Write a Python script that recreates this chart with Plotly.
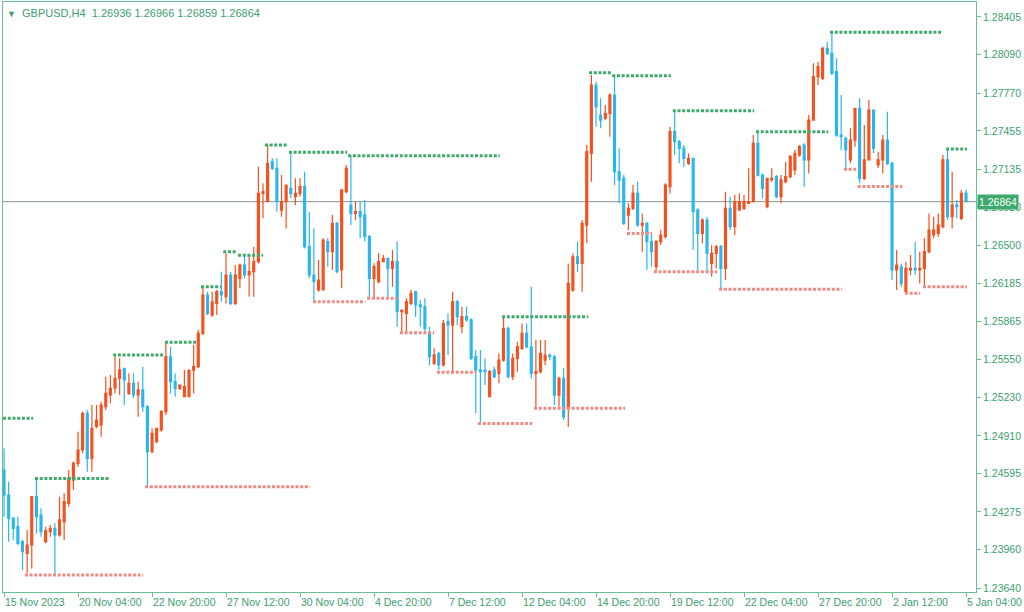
import plotly.graph_objects as go

# ---- H4 candles GBPUSD (bar 0 = 15 Nov 2023 12:00) ----
open_ = [1.24625,1.24416,1.24221,1.24152,1.24027,1.23930,1.23999,1.24402,1.24249,1.24027,
         1.24110,1.24138,1.24083,1.24194,1.24347,1.24541,1.24681,1.24792,1.25098,1.24722,
         1.24987,1.25001,1.25154,1.25251,1.25307,1.25390,1.25474,1.25265,1.25348,1.25251,
         1.25293,1.25154,1.24778,1.24861,1.24959,1.25112,1.25570,1.25362,1.25306,1.25236,
         1.25236,1.25459,1.25487,1.25765,1.26085,1.25918,1.26015,1.26113,1.26071,1.26252,
         1.26015,1.26224,1.26335,1.26252,1.26280,1.26363,1.26933,1.26864,1.27198,1.27142,
         1.26794,1.26864,1.26975,1.26906,1.26933,1.26989,1.26488,1.26252,1.26127,1.26127,
         1.26530,1.26447,1.26684,1.26294,1.26948,1.26836,1.26767,1.26781,1.26753,1.26572,
         1.26224,1.26197,1.26364,1.26391,1.26308,1.26364,1.25946,1.25932,1.26016,1.26113,
         1.26002,1.25988,1.25765,1.25515,1.25598,1.25501,1.25863,1.25835,1.26030,1.25821,
         1.25904,1.25877,1.25571,1.25459,1.25459,1.25237,1.25459,1.25431,1.25542,1.25806,
         1.25403,1.25556,1.25640,1.25765,1.25653,1.25431,1.25445,1.25542,1.25584,1.25570,
         1.25250,1.25389,1.25139,1.26126,1.26404,1.26349,1.26669,1.27267,1.27837,1.27587,
         1.27559,1.27601,1.27754,1.27114,1.27058,1.26752,1.26808,1.26933,1.26669,1.26683,
         1.26530,1.26321,1.26530,1.26572,1.26989,1.27448,1.27365,1.27309,1.27184,1.27225,
         1.26794,1.26600,1.26711,1.26349,1.26433,1.26488,1.26307,1.26808,1.26655,1.26794,
         1.26808,1.26850,1.26864,1.27351,1.27086,1.26822,1.27045,1.27073,1.26906,1.27031,
         1.27073,1.27128,1.27253,1.27337,1.27212,1.27545,1.27907,1.27893,1.28144,1.28102,
         1.27949,1.27420,1.27392,1.27212,1.27378,1.27643,1.27059,1.27212,1.27629,1.27170,
         1.27212,1.27378,1.27184,1.26294,1.26321,1.26113,1.26294,1.26307,1.26294,1.26307,
         1.26447,1.26586,1.26600,1.26655,1.27212,1.26739,1.26836,1.26725,1.26936]
high = [1.24806,1.24528,1.24235,1.24235,1.24041,1.24124,1.24402,1.24541,1.24305,1.24152,
        1.24166,1.24180,1.24402,1.24430,1.24625,1.24695,1.24945,1.25112,1.25126,1.25167,
        1.25167,1.25195,1.25404,1.25418,1.25571,1.25557,1.25474,1.25432,1.25432,1.25362,
        1.25487,1.25167,1.24973,1.24973,1.25126,1.25696,1.25654,1.25431,1.25334,1.25459,
        1.25459,1.25668,1.25793,1.26154,1.26113,1.26113,1.26127,1.26280,1.26433,1.26280,
        1.26335,1.26349,1.26419,1.26419,1.26488,1.27156,1.27017,1.27337,1.27226,1.27226,
        1.27086,1.27003,1.27281,1.27059,1.27059,1.27114,1.26780,1.26641,1.26377,1.26558,
        1.26558,1.26753,1.26697,1.26962,1.27170,1.27254,1.26864,1.26864,1.26878,1.26586,
        1.26350,1.26433,1.26419,1.26391,1.26461,1.26531,1.25960,1.26058,1.26127,1.26113,
        1.26044,1.26058,1.25821,1.25640,1.25612,1.25877,1.25932,1.26113,1.26044,1.25988,
        1.25988,1.25891,1.25626,1.25626,1.25557,1.25459,1.25487,1.25598,1.25904,1.25820,
        1.25598,1.25695,1.25848,1.25848,1.26154,1.25709,1.25709,1.25709,1.25598,1.25584,
        1.25403,1.25473,1.26349,1.26432,1.26530,1.26711,1.27337,1.27921,1.27865,1.27726,
        1.27670,1.27768,1.27921,1.27309,1.27086,1.26850,1.27003,1.27031,1.26766,1.26697,
        1.26599,1.26544,1.26627,1.27017,1.27490,1.27615,1.27378,1.27337,1.27267,1.27225,
        1.26808,1.26725,1.26739,1.26502,1.26502,1.26502,1.26947,1.26906,1.26920,1.26933,
        1.26920,1.27142,1.27420,1.27448,1.27100,1.27059,1.27142,1.27086,1.27086,1.27198,
        1.27253,1.27295,1.27337,1.27351,1.27587,1.28018,1.28032,1.28157,1.28199,1.28283,
        1.28060,1.27754,1.27406,1.27476,1.27643,1.27726,1.27504,1.27712,1.27629,1.27281,
        1.27420,1.27615,1.27198,1.26460,1.26349,1.26363,1.26419,1.26530,1.26447,1.26558,
        1.26766,1.26739,1.26766,1.27253,1.27309,1.27114,1.26878,1.26961,1.26966]
low = [1.24235,1.24027,1.24041,1.23999,1.23790,1.23763,1.23804,1.24096,1.24069,1.24013,
       1.24069,1.23749,1.24069,1.24041,1.24319,1.24458,1.24653,1.24764,1.24611,1.24611,
       1.24973,1.24903,1.25126,1.25181,1.25265,1.25251,1.25167,1.25251,1.25223,1.25070,
       1.25112,1.24486,1.24764,1.24848,1.24945,1.25084,1.25264,1.25236,1.25292,1.25236,
       1.25236,1.25264,1.25473,1.25751,1.25918,1.25904,1.25918,1.26029,1.26015,1.26001,
       1.26001,1.26141,1.26224,1.26071,1.26071,1.26349,1.26725,1.26864,1.27128,1.26780,
       1.26739,1.26641,1.26892,1.26836,1.26906,1.26474,1.26224,1.26029,1.26113,1.26127,
       1.26321,1.26294,1.26266,1.26141,1.26934,1.26670,1.26711,1.26558,1.26531,1.26058,
       1.26058,1.26183,1.26364,1.26058,1.26155,1.25821,1.25765,1.25765,1.26002,1.25904,
       1.25821,1.25779,1.25501,1.25501,1.25459,1.25487,1.25585,1.25446,1.25835,1.25765,
       1.25863,1.25543,1.25098,1.25014,1.25334,1.25237,1.25390,1.25348,1.25528,1.25389,
       1.25375,1.25445,1.25626,1.25640,1.25389,1.25139,1.25431,1.25501,1.25542,1.25167,
       1.25153,1.25041,1.24986,1.26112,1.26279,1.26112,1.26516,1.27031,1.27490,1.27476,
       1.27545,1.27406,1.27003,1.26850,1.26669,1.26627,1.26794,1.26655,1.26446,1.26293,
       1.26321,1.26279,1.26502,1.26558,1.26933,1.27253,1.27184,1.27156,1.27170,1.26460,
       1.26294,1.26516,1.26266,1.26238,1.26307,1.26141,1.26210,1.26627,1.26586,1.26794,
       1.26794,1.26850,1.26864,1.27073,1.26892,1.26808,1.27031,1.26892,1.26850,1.27017,
       1.27059,1.27086,1.27239,1.26989,1.27100,1.27545,1.27838,1.27879,1.28088,1.27921,
       1.27406,1.27295,1.27142,1.27184,1.27323,1.27017,1.27045,1.27212,1.27267,1.27142,
       1.27100,1.27170,1.26210,1.26127,1.26154,1.26099,1.26252,1.26252,1.26182,1.26168,
       1.26433,1.26558,1.26572,1.26641,1.26711,1.26641,1.26725,1.26711,1.26859]
close = [1.24416,1.24221,1.24138,1.24013,1.23944,1.23999,1.24402,1.24235,1.24110,1.24119,
         1.24138,1.24083,1.24208,1.24361,1.24555,1.24681,1.24792,1.25098,1.24722,1.24973,
         1.25042,1.25167,1.25265,1.25307,1.25390,1.25460,1.25376,1.25348,1.25251,1.25293,
         1.25154,1.24778,1.24931,1.24973,1.25112,1.25571,1.25362,1.25306,1.25334,1.25320,
         1.25459,1.25487,1.25765,1.26085,1.25932,1.26029,1.26113,1.26085,1.26252,1.26015,
         1.26252,1.26335,1.26252,1.26280,1.26363,1.26933,1.26947,1.27184,1.27142,1.26864,
         1.26864,1.27003,1.26933,1.26933,1.26989,1.26488,1.26252,1.26196,1.26210,1.26544,
         1.26447,1.26684,1.26280,1.26962,1.27143,1.26767,1.26781,1.26739,1.26572,1.26224,
         1.26322,1.26364,1.26391,1.26308,1.26364,1.25946,1.25960,1.26030,1.26099,1.26002,
         1.25988,1.25807,1.25571,1.25585,1.25501,1.25849,1.25835,1.26030,1.25904,1.25904,
         1.25877,1.25557,1.25459,1.25446,1.25446,1.25446,1.25404,1.25542,1.25806,1.25403,
         1.25556,1.25653,1.25765,1.25653,1.25431,1.25445,1.25598,1.25584,1.25570,1.25250,
         1.25389,1.25069,1.26182,1.26404,1.26349,1.26683,1.27281,1.27837,1.27656,1.27545,
         1.27601,1.27754,1.27114,1.27044,1.26683,1.26808,1.26933,1.26669,1.26683,1.26530,
         1.26446,1.26530,1.26585,1.27003,1.27448,1.27365,1.27309,1.27225,1.27225,1.26780,
         1.26600,1.26711,1.26433,1.26433,1.26488,1.26307,1.26808,1.26655,1.26864,1.26864,
         1.26864,1.26864,1.27351,1.27086,1.26975,1.27059,1.27059,1.26906,1.27045,1.27073,
         1.27239,1.27267,1.27323,1.27212,1.27545,1.27907,1.27991,1.28144,1.28102,1.27935,
         1.27420,1.27406,1.27295,1.27378,1.27643,1.27059,1.27212,1.27629,1.27309,1.27212,
         1.27378,1.27184,1.26294,1.26335,1.26182,1.26307,1.26307,1.26294,1.26307,1.26447,
         1.26627,1.26627,1.26669,1.27212,1.26739,1.26836,1.26822,1.26933,1.26864]

# ---- resistance (green) and support (red) levels: price, first bar, last bar ----
res_price = [1.25056,1.24555,1.25584,1.25690,1.26154,1.26447,1.26416,1.27337,1.27276,1.27248,
             1.25904,1.27940,1.27915,1.27623,1.27448,1.28277,1.27303]
res_start = [-0.2,6.7,23.6,34.8,42.6,47.4,50.6,56.4,61.6,74.4,107.7,126.5,131.5,144.6,162.6,178.6,203.7]
res_end   = [6.3,22.9,34.4,41.9,46.9,50.2,56.0,61.2,74.2,107.2,126.3,131.2,144.2,162.2,178.2,203.0,208.2]
sup_price = [1.23749,1.24486,1.26029,1.26058,1.25770,1.25440,1.25014,1.25140,1.26599,1.26280,
             1.26133,1.27134,1.26990,1.26099,1.26155]
sup_start = [4.5,30.5,66.8,78.5,85.6,93.6,102.5,114.6,134.7,140.5,154.6,181.6,184.6,194.8,198.7]
sup_end   = [30.1,66.2,78.1,85.0,93.0,102.1,114.2,134.3,140.1,154.2,181.2,184.4,194.2,198.1,208.2]

# ---- axis ticks ----
x_tick_bars = [0,16,32,48,64,80,96,112,128,144,160,176,192,208]
x_tick_text = ["15 Nov 2023","20 Nov 04:00","22 Nov 20:00","27 Nov 12:00","30 Nov 04:00",
               "4 Dec 20:00","7 Dec 12:00","12 Dec 04:00","14 Dec 20:00","19 Dec 12:00",
               "22 Dec 04:00","27 Dec 20:00","2 Jan 12:00","5 Jan 04:00"]
y_ticks = [1.28405,1.28090,1.27770,1.27455,1.27135,1.26820,1.26500,1.26185,1.25865,1.25550,
           1.25230,1.24910,1.24595,1.24275,1.23960,1.23640]

UP = "#F4511E"
DOWN = "#29B6EE"
GREEN_TXT = "#3C9E6E"
AXIS = "#6ABF93"
RES = "#3DAA6A"
SUP = "#F08A84"
FONT = "Liberation Sans, Arial, sans-serif"

bars = list(range(len(open_)))

def segs(starts, ends, prices):
    xs, ys = [], []
    for s, e, p in zip(starts, ends, prices):
        xs += [s, e, None]
        ys += [p, p, None]
    return xs, ys

fig = go.Figure()
fig.add_trace(go.Candlestick(
    x=bars, open=open_, high=high, low=low, close=close,
    increasing=dict(line=dict(color=UP, width=1.2), fillcolor=UP),
    decreasing=dict(line=dict(color=DOWN, width=1.2), fillcolor=DOWN),
    whiskerwidth=0, showlegend=False, hoverinfo="skip"))

rx, ry = segs(res_start, res_end, res_price)
fig.add_trace(go.Scatter(x=rx, y=ry, mode="lines", showlegend=False, hoverinfo="skip",
                         line=dict(color=RES, width=3, dash="3px,1.7px")))
sx, sy = segs(sup_start, sup_end, sup_price)
fig.add_trace(go.Scatter(x=sx, y=sy, mode="lines", showlegend=False, hoverinfo="skip",
                         line=dict(color=SUP, width=3, dash="3px,1.7px")))

last = close[-1]
fig.add_shape(type="line", xref="paper", x0=0, x1=1, yref="y", y0=last, y1=last,
              line=dict(color="#86928E", width=1), layer="below")

fig.add_annotation(xref="paper", x=1, xanchor="left", yref="y", y=last, yanchor="middle",
                   text=f"{last:.5f}", showarrow=False, bgcolor="#3CAA6C",
                   font=dict(color="white", size=10.5, family=FONT), borderpad=1, xshift=1)

fig.add_annotation(xref="paper", x=0, xanchor="left", yref="paper", y=1, yanchor="top",
                   text=("<span style='font-size:9px'>▼</span>  GBPUSD,H4  "
                         f"{open_[-1]:.5f} {high[-1]:.5f} {low[-1]:.5f} {close[-1]:.5f}"),
                   showarrow=False, xshift=2, yshift=-3,
                   font=dict(color=GREEN_TXT, size=11, family=FONT))

fig.update_layout(
    width=1024, height=612, margin=dict(l=3, r=48, t=2, b=20),
    paper_bgcolor="white", plot_bgcolor="white", boxgap=0.4,
    font=dict(family=FONT, size=10, color=GREEN_TXT),
    xaxis=dict(range=[-0.22, 210.16], rangeslider=dict(visible=False), showgrid=False,
               zeroline=False, tickmode="array", tickvals=x_tick_bars, ticktext=x_tick_text,
               ticks="outside", ticklen=4, tickcolor=AXIS, ticklabelposition="outside right",
               tickangle=0,
               showline=True, linecolor=AXIS, linewidth=1, mirror=True,
               tickfont=dict(size=10.5, color=GREEN_TXT, family=FONT)),
    yaxis=dict(range=[1.23607, 1.28530], side="right", showgrid=False, zeroline=False,
               tickmode="array", tickvals=y_ticks, ticktext=[f"{v:.5f}" for v in y_ticks],
               ticks="outside", ticklen=4, tickcolor=AXIS,
               showline=True, linecolor=AXIS, linewidth=1, mirror=True,
               tickfont=dict(size=10.5, color=GREEN_TXT, family=FONT)),
)

fig.write_html("out.html")
